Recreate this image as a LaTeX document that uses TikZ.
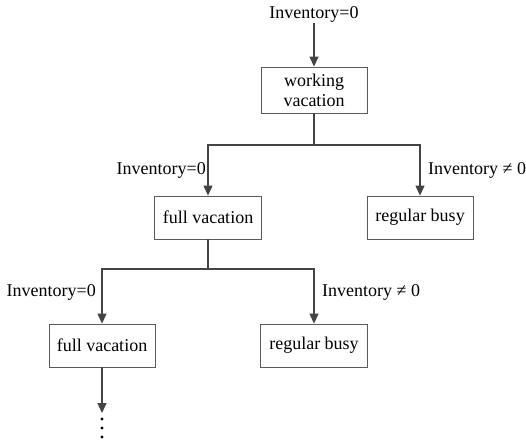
\documentclass[tikz,border=0pt]{standalone}
\usepackage{fontspec}
\setmainfont{Liberation Serif}
\usetikzlibrary{arrows.meta}
\definecolor{linec}{RGB}{68,68,68}
\definecolor{boxc}{RGB}{90,90,90}
\begin{document}
\begin{tikzpicture}[x=1pt,y=-1pt,
  every node/.style={font=\fontsize{18}{20}\selectfont},
  box/.style={draw=boxc,line width=0.8pt,inner sep=0pt,minimum height=43pt,align=center},
  lbl/.style={inner sep=1pt},
  conn/.style={draw=linec,line width=1.2pt},
  arr/.style={conn,-{Triangle[length=10pt,width=9pt]}}]
\useasboundingbox (0,0) rectangle (526,443);
\node[lbl] (top) at (314,14) {Inventory=0};
\node[box,minimum width=106pt,minimum height=46pt] (wv) at (314,90) {working\\vacation};
\node[box,minimum width=107pt] (fv1) at (208,217.5) {full vacation};
\node[box,minimum width=106pt] (rb1) at (420,217.5) {regular busy};
\node[box,minimum width=106pt] (fv2) at (102,345.5) {full vacation};
\node[box,minimum width=107pt] (rb2) at (314,345.5) {regular busy};
\node[lbl,anchor=east] (l1) at (207,170) {Inventory=0};
\node[lbl,anchor=west] (l2) at (427,170) {Inventory ≠ 0};
\node[lbl,anchor=east] (l3) at (97,292) {Inventory=0};
\node[lbl,anchor=west] (l4) at (321,292) {Inventory ≠ 0};
\coordinate (j1) at (wv.south |- 0,145);
\coordinate (j2) at (fv1.south |- 0,269);
\coordinate (dend) at (fv2.south |- 0,413);
\draw[arr] (top.south) -- (wv.north);
\draw[conn] (wv.south) -- (j1);
\draw[arr] (j1) -| (fv1.north);
\draw[arr] (j1) -| (rb1.north);
\draw[conn] (fv1.south) -- (j2);
\draw[arr] (j2) -| (fv2.north);
\draw[arr] (j2) -| (rb2.north);
\draw[arr] (fv2.south) -- (dend);
\foreach \yy in {419,428,437} \fill (102,\yy) circle (1.7pt);
\end{tikzpicture}
\end{document}
